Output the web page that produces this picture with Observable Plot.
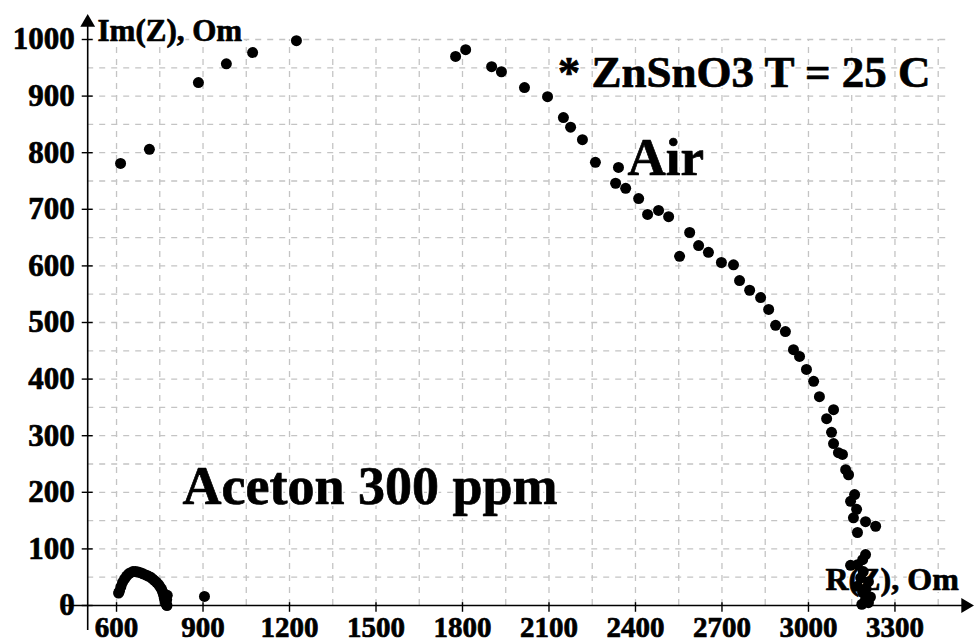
<!DOCTYPE html>
<html>
<head>
<meta charset="utf-8">
<script src="https://cdn.jsdelivr.net/npm/d3@7"></script>
<script src="https://cdn.jsdelivr.net/npm/@observablehq/plot@0.6"></script>
<style>
  html, body { margin: 0; padding: 0; background: #fff; }
  #chart svg { display: block; }
</style>
</head>
<body>
<div id="chart"></div>
<script>
// Series "Air" (Nyquist plot, R(Z) vs Im(Z), Om)
const airR = [614, 714, 884, 981, 1072, 1224, 1776, 1811, 1901, 1935, 2015, 2095, 2150, 2175, 2216, 2261, 2341, 2331, 2366, 2411, 2442, 2480, 2515, 2553, 2588, 2619, 2653, 2698, 2740, 2761, 2796, 2834, 2862, 2886, 2920, 2948, 2969, 2993, 3018, 3038, 3087, 3063, 3080, 3087, 3104, 3118, 3129, 3139, 3160, 3146, 3167, 3156, 3198, 3233, 3170, 3198, 3188, 3146, 3170, 3181, 3208, 3170, 3188, 3198, 3208, 3190, 3200, 3185, 3215];
const airIm = [781, 806, 924, 957, 977, 998, 970, 982, 952, 943, 915, 899, 862, 845, 823, 783, 774, 746, 737, 719, 691, 698, 687, 617, 659, 636, 624, 606, 602, 574, 557, 544, 523, 495, 484, 452, 440, 417, 396, 369, 346, 330, 306, 286, 270, 267, 240, 231, 196, 184, 170, 155, 148, 140, 129, 90, 81, 71, 72, 49, 42, 34, 23, 11, 5, 60, 30, 2, 15];

// Series "Aceton 300 ppm"
const acR = [607, 610, 615, 621, 628, 635, 642, 649, 657, 666, 675, 683, 692, 701, 710, 718, 725, 732, 739, 746, 751, 756, 760, 763, 766, 768, 770, 772, 775, 776, 774, 905];
const acIm = [22, 25, 33, 41, 47, 52, 56, 58, 60, 60, 59, 58, 56, 54, 52, 50, 47, 44, 41, 37, 33, 29, 24, 19, 13, 9, 5, 2, 0, 18, 10, 16];

// Axis ticks
const xTicks = [600, 900, 1200, 1500, 1800, 2100, 2400, 2700, 3000, 3300];
const yTicks = [0, 100, 200, 300, 400, 500, 600, 700, 800, 900, 1000];
const xGrid = [600, 750, 900, 1050, 1200, 1350, 1500, 1650, 1800, 1950, 2100, 2250, 2400, 2550, 2700, 2850, 3000, 3150, 3300, 3450];
const yGrid = [50, 100, 150, 200, 250, 300, 350, 400, 450, 500, 550, 600, 650, 700, 750, 800, 850, 900, 950, 1000];

// Labels
const labels = [
  {x: 2130, y: 941, text: "* ZnSnO3 T = 25 C", size: 45},
  {x: 2372, y: 791, text: "Air", size: 53},
  {x: 829, y: 209, text: "Aceton 300 ppm", size: 54},
  {x: 534, y: 1014, text: "Im(Z), Om", size: 31},
  {x: 3059, y: 46, text: "R(Z), Om", size: 32}
];

const air = airR.map((r, i) => ({r, im: airIm[i]}));
const ac = acR.map((r, i) => ({r, im: acIm[i]}));

const font = "'Liberation Serif', 'Times New Roman', serif";
const txt = {fontWeight: "bold", fontFamily: font, fill: "#000", stroke: "#000", strokeWidth: 0.7};

const chart = Plot.plot({
  width: 974,
  height: 644,
  style: {background: "#fff", fontFamily: font},
  x: {domain: [500, 3570], range: [87.2, 972.3], axis: null},
  y: {domain: [0, 1000], range: [605, 39], axis: null},
  marks: [
    Plot.ruleX(xGrid, {x: d => d, y1: 0, y2: 1000, stroke: "#c4c4c4", strokeWidth: 1.3, strokeDasharray: "6,6"}),
    Plot.ruleY(yGrid, {y: d => d, x1: 500, x2: 3485, stroke: "#c4c4c4", strokeWidth: 1.3, strokeDasharray: "6,6"}),
    Plot.text(labels, {x: "x", y: "y", text: "text", fontSize: d => d.size, textAnchor: "start",
      fontWeight: "bold", fontFamily: font, fill: "#fff", stroke: "#fff", strokeWidth: 4}),
    Plot.text(labels, {x: "x", y: "y", text: "text", fontSize: d => d.size, textAnchor: "start", ...txt}),
    // axes
    Plot.ruleY([0], {x1: 420, x2: 3555, stroke: "#000", strokeWidth: 1.6}),
    Plot.ruleX([500], {y1: -44, y2: 1025, stroke: "#000", strokeWidth: 1.6}),
    Plot.dot([{x: 500, y: 1030}], {x: "x", y: "y", symbol: "triangle", r: 5.5, fill: "#000", stroke: "none"}),
    Plot.dot([{x: 3545, y: 0}], {x: "x", y: "y", symbol: "triangle", r: 5.5, fill: "#000", stroke: "none", rotate: 90}),
    Plot.ruleX(xTicks, {x: d => d, y1: -12, y2: 5, stroke: "#000", strokeWidth: 1.4}),
    Plot.ruleY(yTicks, {y: d => d, x1: 481, x2: 519, stroke: "#000", strokeWidth: 1.4}),
    Plot.text(xTicks, {x: d => d, y: 0, dy: 22, text: d => String(d), fontSize: 29, ...txt}),
    Plot.text(yTicks, {x: 500, y: d => d, dx: -13, text: d => String(d), textAnchor: "end", fontSize: 31, ...txt}),
    // data
    Plot.dot(ac, {x: "r", y: "im", r: 5.5, fill: "#000", stroke: "none"}),
    Plot.dot(air, {x: "r", y: "im", r: 5.5, fill: "#000", stroke: "none"})
  ]
});
document.getElementById("chart").appendChild(chart);
</script>
</body>
</html>
